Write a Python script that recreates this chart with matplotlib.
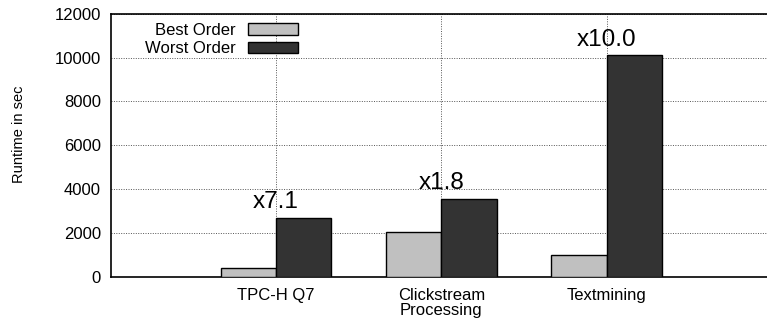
import matplotlib.pyplot as plt

plt.rcParams['font.family'] = ['Liberation Sans', 'DejaVu Sans']

# data
categories = ['TPC-H Q7', 'Clickstream\nProcessing', 'Textmining']
best_order = [380, 2020, 1012]
worst_order = [2700, 3560, 10120]
ratio_labels = ['x7.1', 'x1.8', 'x10.0']

fig = plt.figure(figsize=(7.67, 3.22), dpi=100)
ax = fig.add_axes([0.1443, 0.1407, 0.862, 0.8168])

pos = [1, 2, 3]
w = 0.335
ax.bar([p - w / 2 for p in pos], best_order, width=w, color='#c0c0c0',
       edgecolor='black', linewidth=1, label='Best Order', zorder=3)
ax.bar([p + w / 2 for p in pos], worst_order, width=w, color='#333333',
       edgecolor='black', linewidth=1, label='Worst Order', zorder=3)

for p, v, t in zip(pos, worst_order, ratio_labels):
    ax.annotate(t, (p, v), xytext=(0, 11), textcoords='offset points',
                ha='center', va='center', fontsize=17.5, zorder=4)

ax.set_xlim(0, 4)
ax.set_ylim(0, 12000)
ax.set_xticks(pos)
ax.set_xticklabels(categories, fontsize=12, linespacing=1.0)
ax.set_yticks(range(0, 12001, 2000))
ax.tick_params(axis='y', labelsize=12, length=0, pad=7)
ax.tick_params(axis='x', length=0, pad=8)
ax.set_ylabel('Runtime in sec', fontsize=10.5)
ax.yaxis.set_label_coords(-0.128, 0.543)

ax.grid(True, linestyle=(0, (1, 1.5)), color='#555555', linewidth=0.7, zorder=0)
ax.spines['right'].set_visible(False)
for s in ['left', 'top', 'bottom']:
    ax.spines[s].set_linewidth(1.2)

ax.legend(loc='upper left', bbox_to_anchor=(145 / 767, 1 - 23 / 322),
          bbox_transform=fig.transFigure, frameon=False, markerfirst=False,
          fontsize=12, handlelength=3.0, handletextpad=0.75,
          labelspacing=0.2, borderpad=0, borderaxespad=0)

fig.savefig('out.png')
